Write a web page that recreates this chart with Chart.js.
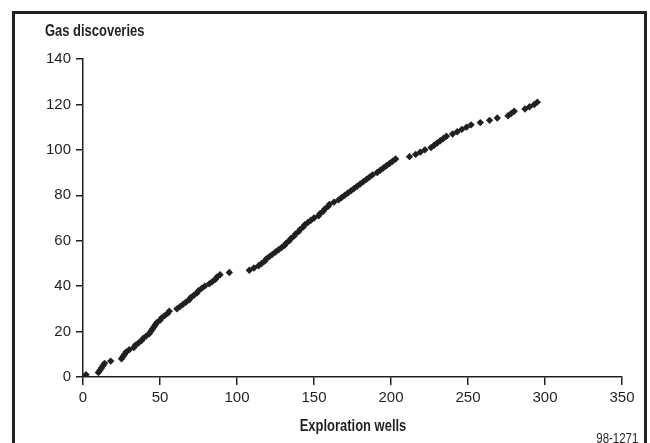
<!DOCTYPE html>
<html>
<head>
<meta charset="utf-8">
<script src="https://cdn.jsdelivr.net/npm/chart.js@4/dist/chart.umd.min.js"></script>
<style>
  html, body { margin: 0; padding: 0; background: #fff; overflow: hidden; }
  #wrap { position: relative; width: 650px; height: 443px; }
  canvas { position: absolute; left: 0; top: 0; }
  .frame { position: absolute; left: 12px; top: 11px; width: 635px; height: 500px; box-sizing: border-box; border: 3px solid #231f20; pointer-events: none; }
  .ytitle { position: absolute; left: 45px; top: 23px; font: bold 16px 'Liberation Sans', Arial, sans-serif; line-height: 16px; color: #231f20; white-space: nowrap; transform: scaleX(0.81); transform-origin: 0 0; }
  .xtitle { position: absolute; left: 253px; width: 200px; top: 418px; text-align: center; font: bold 16px 'Liberation Sans', Arial, sans-serif; line-height: 16px; color: #231f20; white-space: nowrap; transform: scaleX(0.81); transform-origin: 50% 0; }
  .code { position: absolute; right: 12px; top: 431px; font: 14px 'Liberation Sans', Arial, sans-serif; line-height: 14px; color: #231f20; white-space: nowrap; transform: scaleX(0.82); transform-origin: 100% 0; }
</style>
</head>
<body>
<div id="wrap">
  <canvas id="c" width="650" height="443"></canvas>
  <div class="frame"></div>
  <div class="ytitle">Gas discoveries</div>
  <div class="xtitle" id="xt"></div>
  <div class="code">98-1271</div>
</div>
<script>
// Cumulative gas discoveries against number of exploration wells
const wells = [
  2, 10, 11, 12, 13, 14, 18, 25, 26, 27,
  28, 30, 33, 34, 36, 38, 39, 41, 43, 44,
  45, 46, 47, 48, 50, 51, 53, 55, 56, 61,
  63, 65, 67, 69, 70, 72, 74, 75, 77, 79,
  82, 84, 86, 87, 89, 95, 108, 111, 114, 116,
  118, 119, 121, 123, 125, 127, 129, 131, 132, 134,
  135, 137, 138, 140, 141, 143, 144, 146, 148, 150,
  153, 154, 156, 157, 159, 160, 163, 166, 168, 170,
  172, 174, 176, 178, 180, 182, 184, 186, 188, 191,
  193, 195, 197, 199, 201, 203, 212, 216, 219, 222,
  226, 228, 230, 232, 234, 236, 240, 243, 246, 249,
  252, 258, 264, 269, 276, 278, 280, 287, 290, 293,
  295
];
const discoveries = [
  1, 2, 3, 4, 5, 6, 7, 8, 9, 10,
  11, 12, 13, 14, 15, 16, 17, 18, 19, 20,
  21, 22, 23, 24, 25, 26, 27, 28, 29, 30,
  31, 32, 33, 34, 35, 36, 37, 38, 39, 40,
  41, 42, 43, 44, 45, 46, 47, 48, 49, 50,
  51, 52, 53, 54, 55, 56, 57, 58, 59, 60,
  61, 62, 63, 64, 65, 66, 67, 68, 69, 70,
  71, 72, 73, 74, 75, 76, 77, 78, 79, 80,
  81, 82, 83, 84, 85, 86, 87, 88, 89, 90,
  91, 92, 93, 94, 95, 96, 97, 98, 99, 100,
  101, 102, 103, 104, 105, 106, 107, 108, 109, 110,
  111, 112, 113, 114, 115, 116, 117, 118, 119, 120,
  121
];
const xTicks = [0, 50, 100, 150, 200, 250, 300, 350];
const yTicks = [0, 20, 40, 60, 80, 100, 120, 140];
const xTitle = 'Exploration wells';
document.getElementById('xt').textContent = xTitle;

const ink = '#231f20';
const fam = "'Liberation Sans', Arial, sans-serif";
const tickFont = { family: fam, size: 15 };
const points = wells.map((w, i) => ({ x: w, y: discoveries[i] }));

new Chart(document.getElementById('c'), {
  type: 'scatter',
  data: {
    datasets: [{
      data: points,
      pointStyle: 'rectRot',
      pointRadius: 3.7,
      pointBorderWidth: 0,
      pointBackgroundColor: ink,
      pointBorderColor: ink
    }]
  },
  options: {
    responsive: false,
    animation: false,
    devicePixelRatio: 1,
    layout: { padding: { left: 0, right: 28, top: 59, bottom: 0 } },
    plugins: { legend: { display: false }, tooltip: { enabled: false } },
    scales: {
      x: {
        type: 'linear',
        min: xTicks[0], max: xTicks[xTicks.length - 1],
        afterBuildTicks: s => { s.ticks = xTicks.map(v => ({ value: v })); },
        afterFit: s => { s.height = 66; },
        grid: { display: true, drawOnChartArea: false, drawTicks: true, tickLength: 8, color: ink, lineWidth: 1.5 },
        border: { display: true, color: ink, width: 1.5 },
        ticks: { color: ink, font: tickFont, padding: 4, maxRotation: 0 },
        title: { display: false, text: xTitle }
      },
      y: {
        type: 'linear',
        min: yTicks[0], max: yTicks[yTicks.length - 1],
        afterBuildTicks: s => { s.ticks = yTicks.map(v => ({ value: v })); },
        afterFit: s => { s.width = 83; },
        grid: { display: true, drawOnChartArea: false, drawTicks: true, tickLength: 7, color: ink, lineWidth: 1.5 },
        border: { display: true, color: ink, width: 1.5 },
        ticks: { color: ink, font: tickFont, padding: 5 }
      }
    }
  }
});
</script>
</body>
</html>
